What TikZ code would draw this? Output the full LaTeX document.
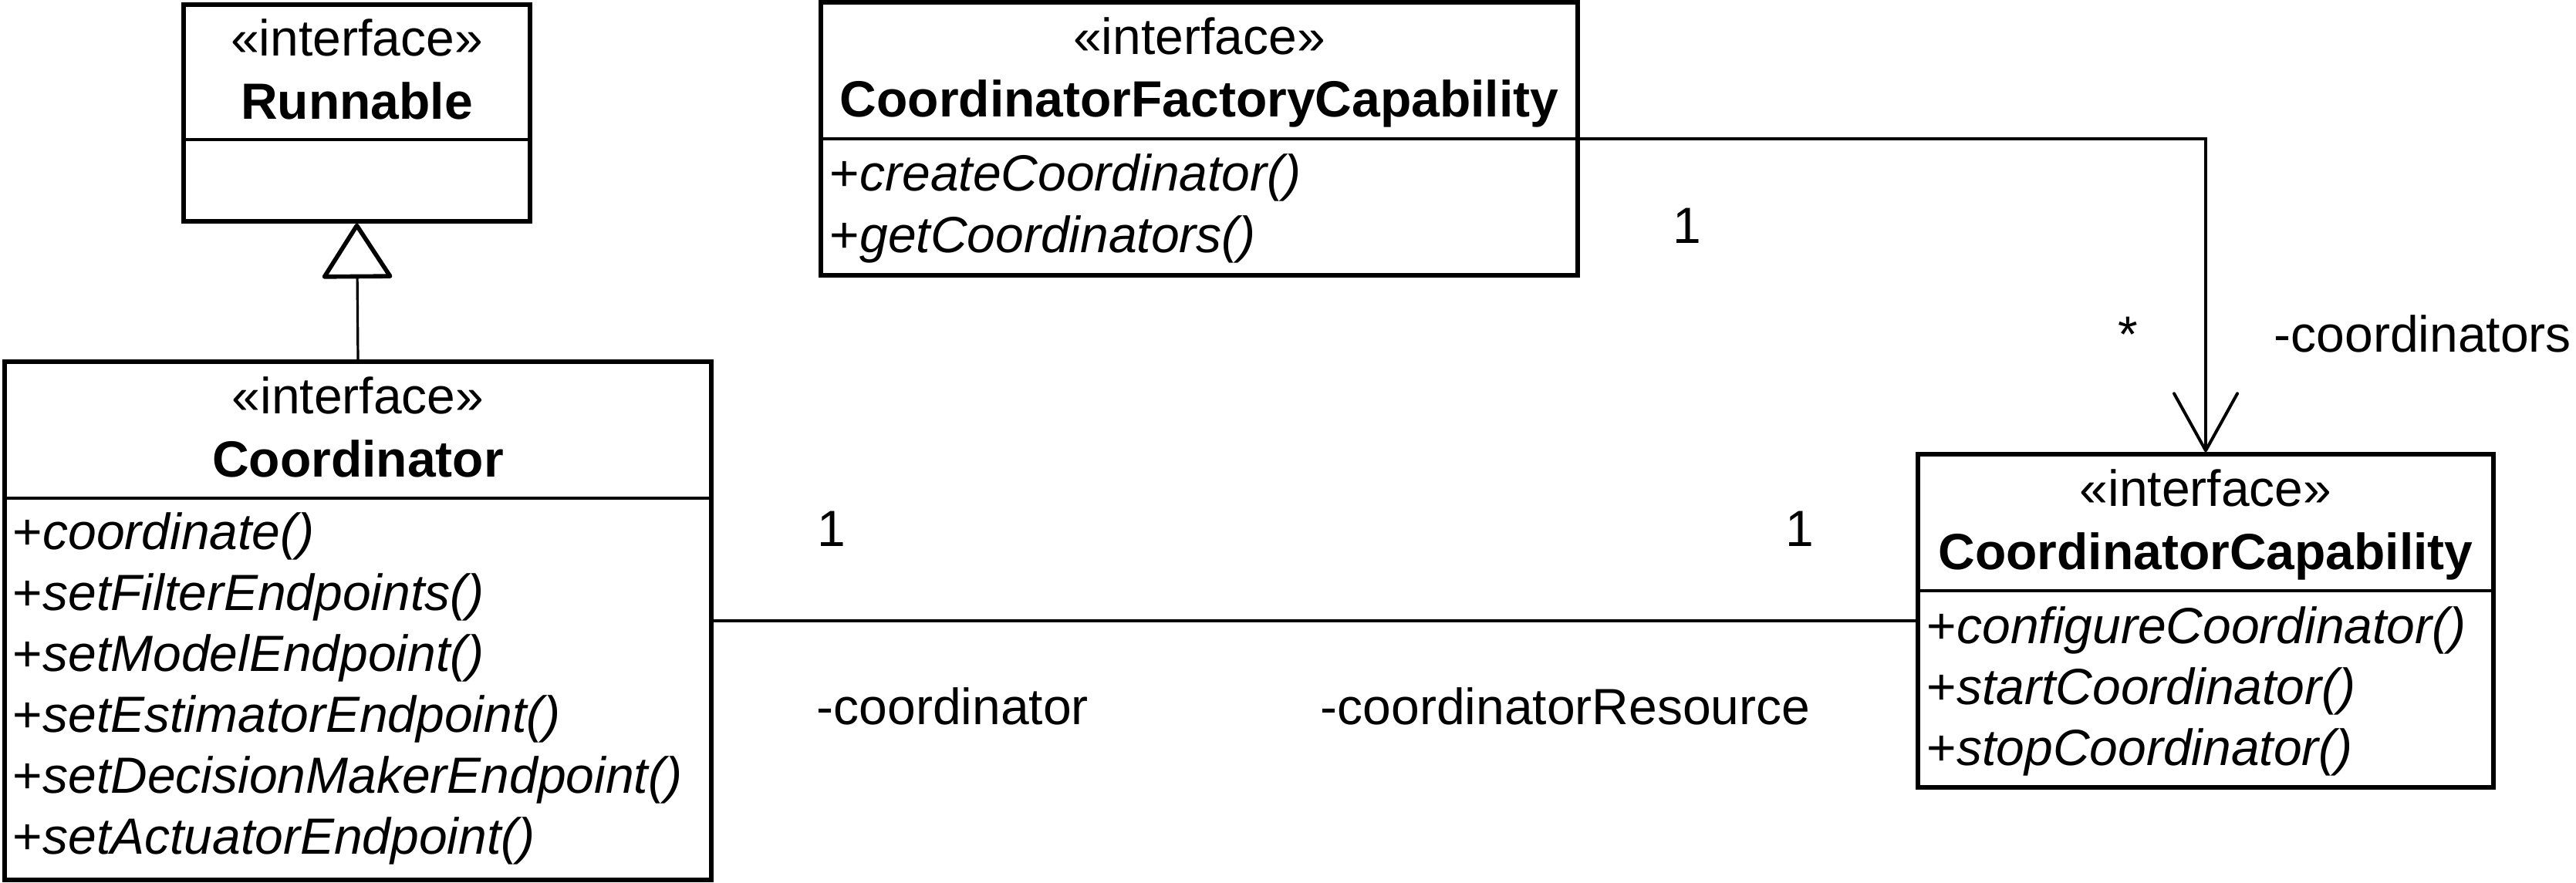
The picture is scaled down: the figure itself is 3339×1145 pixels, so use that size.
\documentclass[tikz,border=0pt]{standalone}
\usepackage{fontspec}
\setmainfont{Liberation Sans}
\usetikzlibrary{arrows.meta}
\newcommand{\umlfont}{\fontsize{16.5pt}{19.8pt}\selectfont}
\tikzset{
  umlbox/.style={draw=black, line width=1.35pt, fill=white, inner sep=0pt, line join=miter},
  divider/.style={line width=1.2pt},
  conn/.style={line width=0.8pt},
  stereo/.style={anchor=base, inner sep=0pt, font=\umlfont},
  cname/.style={anchor=base, inner sep=0pt, font=\umlfont\bfseries},
  meth/.style={anchor=base west, inner sep=0pt, font=\umlfont},
  lbl/.style={anchor=base, inner sep=0pt, font=\umlfont},
  lblw/.style={anchor=base west, inner sep=0pt, font=\umlfont},
  gentip/.style={-{Triangle[open, length=18.5pt, width=23.5pt, line width=1.4pt, round]}},
  navtip/.style={-{Straight Barb[length=18.5pt, width=20.5pt, line width=1pt, round]}}
}
\begin{document}
\begin{tikzpicture}[x=0.25pt, y=-0.25pt]
\useasboundingbox (0,0) rectangle (3339,1145);
\fill[white] (0,0) rectangle (3339,1145);

% boxes
\node[umlbox, minimum width=112.25pt, minimum height=70.25pt] (runnable) at (462.5,146.5) {};
\node[umlbox, minimum width=229pt, minimum height=168pt] (coord) at (464,805) {};
\node[umlbox, minimum width=245.25pt, minimum height=88.5pt] (cfc) at (1554.5,180) {};
\node[umlbox, minimum width=186.5pt, minimum height=108pt] (cc) at (2859,805) {};

% dividers
\draw[divider] (238,181) -- (687,181);
\draw[divider] (6,646) -- (922,646);
\draw[divider] (1064,180) -- (2045,180);
\draw[divider] (2486,766) -- (3232,766);

% Runnable
\node[stereo] (r-st) at (462.5,73) {«interface»};
\node[cname] (r-nm) at (462.5,155) {Runnable};

% CoordinatorFactoryCapability
\node[stereo] (f-st) at (1554.5,70.5) {«interface»};
\node[cname] (f-nm) at (1554.5,151.5) {CoordinatorFactoryCapability};
\node[meth] (f-m1) at (1075,248) {+\textit{createCoordinator()}};
\node[meth] (f-m2) at (1075,327) {+\textit{getCoordinators()}};

% Coordinator
\node[stereo] (c-st) at (464,536) {«interface»};
\node[cname] (c-nm) at (464,618) {Coordinator};
\node[meth] (c-m1) at (16,712) {+\textit{coordinate()}};
\node[meth] (c-m2) at (16,791) {+\textit{setFilterEndpoints()}};
\node[meth] (c-m3) at (16,870) {+\textit{setModelEndpoint()}};
\node[meth] (c-m4) at (16,949) {+\textit{setEstimatorEndpoint()}};
\node[meth] (c-m5) at (16,1028) {+\textit{setDecisionMakerEndpoint()}};
\node[meth] (c-m6) at (16,1107) {+\textit{setActuatorEndpoint()}};

% CoordinatorCapability
\node[stereo] (k-st) at (2859,656) {«interface»};
\node[cname] (k-nm) at (2859,738) {CoordinatorCapability};
\node[meth] (k-m1) at (2497,834) {+\textit{configureCoordinator()}};
\node[meth] (k-m2) at (2497,913) {+\textit{startCoordinator()}};
\node[meth] (k-m3) at (2497,992) {+\textit{stopCoordinator()}};

% connectors
\draw[conn, gentip] (coord.north) -- (runnable.south);
\draw[conn] (coord.east) -- (cc.west);
\draw[conn, navtip] (cfc.east) -| (cc.north);

% association labels
\node[lbl] (m-f1) at (2187,315) {1};
\node[lbl] (m-star) at (2758,456) {*};
\node[lblw] (r-coords) at (2947,456) {-coordinators};
\node[lbl] (m-c1) at (1078,708) {1};
\node[lbl] (m-k1) at (2333,708) {1};
\node[lblw] (r-coord) at (1058,939) {-coordinator};
\node[lblw] (r-res) at (1711,939) {-coordinatorResource};
\end{tikzpicture}
\end{document}
